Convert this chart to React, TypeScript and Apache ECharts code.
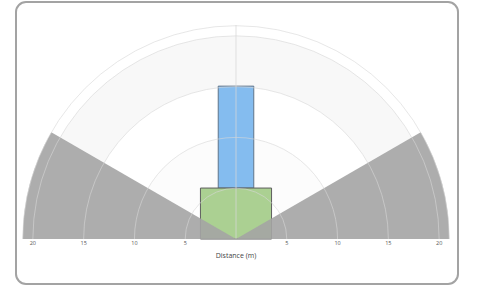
import React, { useEffect, useRef } from "react";
import * as echarts from "echarts";

// ---- data ----
const xTickValues = [-20, -15, -10, -5, 5, 10, 15, 20];
const yTickValues = [5, 10, 15, 20];
const maxRange = 21;
const bandStarts = [0, 5, 10, 15, 20];
const bandEnds = [5, 10, 15, 20, 21];
const ringRadii = [5, 10, 15, 20, 21];
// blind zones: [fromDeg, toDeg] (math angle, 0 = right, 180 = left)
const blindZoneFrom = [150, 0];
const blindZoneTo = [180, 30];
// rectangles: [xMin, xMax, yMin, yMax]
const longRangeZone = [[-1.75, 1.75, 5, 15]];
const shortRangeZone = [[-3.5, 3.5, 0, 5]];
const axisName = "Distance (m)";

const FONT = "'Open Sans', 'Noto Sans', sans-serif";
const BAND_FILLS = ["#ffffff", "#fcfcfc", "#ffffff", "#f8f8f8", "#ffffff"];

export default function App() {
  const ref = useRef<HTMLDivElement>(null);
  useEffect(() => {
    if (!ref.current) return;
    const chart = echarts.init(ref.current, undefined, { renderer: "svg" });

    const rectRender = (fill: string, stroke: string) => (params: any, api: any) => {
      const p0 = api.coord([api.value(0), api.value(3)]);
      const p1 = api.coord([api.value(1), api.value(2)]);
      return {
        type: "rect",
        shape: { x: p0[0], y: p0[1], width: p1[0] - p0[0], height: p1[1] - p0[1] },
        style: { fill, stroke, lineWidth: 1 },
      };
    };

    const option: any = {
      animation: false,
      backgroundColor: "#ffffff",
      graphic: [
        {
          type: "rect",
          z: 0,
          silent: true,
          shape: { x: 16, y: 2, width: 442, height: 282, r: 10 },
          style: { fill: "#ffffff", stroke: "#a3a3a3", lineWidth: 2 },
        },
      ],
      grid: { left: 22.7, right: 32.7, top: 25, bottom: 47, containLabel: false },
      xAxis: {
        type: "value",
        min: -maxRange,
        max: maxRange,
        name: axisName,
        nameLocation: "middle",
        nameGap: 13,
        nameTextStyle: { fontSize: 7, color: "#444", fontFamily: FONT },
        axisLine: { show: false },
        axisTick: { show: false },
        splitLine: { show: false },
        axisLabel: {
          customValues: xTickValues,
          formatter: (v: number) => String(Math.abs(v)),
          fontSize: 5.5,
          color: "#555",
          margin: 1,
          fontFamily: FONT,
        },
      },
      yAxis: {
        type: "value",
        min: 0,
        max: maxRange,
        position: "left",
        offset: -213.3,
        axisLine: { show: false },
        axisTick: { show: false },
        splitLine: { show: false },
        axisLabel: {
          customValues: yTickValues,
          inside: true,
          fontSize: 5.5,
          color: "#555",
          margin: 3,
          verticalAlign: "top",
          fontFamily: FONT,
        },
      },
      series: [
        {
          type: "custom",
          z: 1,
          clip: false,
          silent: true,
          data: bandStarts.map((s, i) => [s, bandEnds[i]]),
          renderItem: (params: any, api: any) => {
            const c = api.coord([0, 0]);
            const r0 = api.size([api.value(0), 0])[0];
            const r = api.size([api.value(1), 0])[0];
            return {
              type: "sector",
              shape: { cx: c[0], cy: c[1], r0, r, startAngle: -Math.PI, endAngle: 0, clockwise: true },
              style: { fill: BAND_FILLS[params.dataIndex % BAND_FILLS.length] },
            };
          },
        },
        {
          type: "custom",
          z: 2,
          clip: false,
          silent: true,
          data: longRangeZone,
          renderItem: rectRender("#84bcef", "#5f7489"),
        },
        {
          type: "custom",
          z: 2,
          clip: false,
          silent: true,
          data: shortRangeZone,
          renderItem: rectRender("#abd092", "#5e5e5e"),
        },
        {
          type: "custom",
          z: 3,
          clip: false,
          silent: true,
          data: blindZoneFrom.map((f, i) => [f, blindZoneTo[i], maxRange]),
          renderItem: (params: any, api: any) => {
            const c = api.coord([0, 0]);
            const r = api.size([api.value(2), 0])[0];
            return {
              type: "sector",
              shape: {
                cx: c[0],
                cy: c[1],
                r0: 0,
                r,
                startAngle: (-api.value(1) * Math.PI) / 180,
                endAngle: (-api.value(0) * Math.PI) / 180,
                clockwise: true,
              },
              style: { fill: "rgba(164,164,164,0.9)" },
            };
          },
        },
        {
          type: "custom",
          z: 4,
          clip: false,
          silent: true,
          data: ringRadii.map((r) => [r]),
          renderItem: (params: any, api: any) => {
            const c = api.coord([0, 0]);
            const r = api.size([api.value(0), 0])[0];
            const children: any[] = [
              {
                type: "arc",
                shape: { cx: c[0], cy: c[1], r, startAngle: -Math.PI, endAngle: 0, clockwise: true },
                style: { stroke: "rgba(215,215,215,0.6)", lineWidth: 1, fill: "none" },
              },
            ];
            if (params.dataIndex === 0) {
              const top = api.coord([0, maxRange]);
              children.push({
                type: "line",
                shape: { x1: c[0], y1: c[1], x2: top[0], y2: top[1] },
                style: { stroke: "rgba(215,215,215,0.75)", lineWidth: 1 },
              });
            }
            return { type: "group", children };
          },
        },
      ],
    };
    chart.setOption(option);
    return () => chart.dispose();
  }, []);
  return (
    <div
      ref={ref}
      style={{ position: "fixed", left: 0, top: 0, width: 482, height: 286 }}
    />
  );
}
